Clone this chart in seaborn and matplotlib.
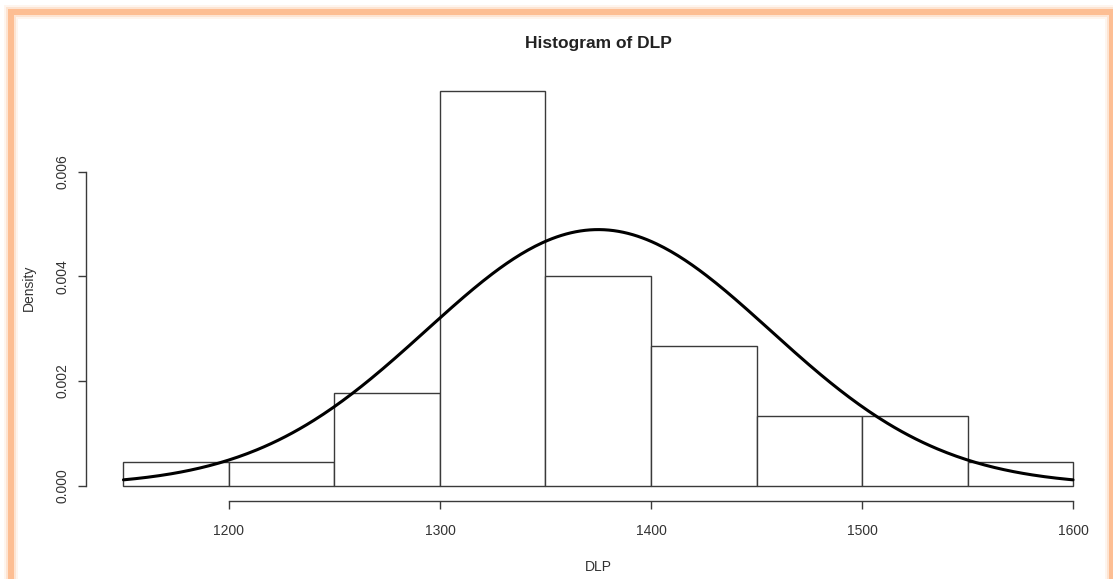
import numpy as np
import pandas as pd
import matplotlib
matplotlib.use("Agg")
import matplotlib.pyplot as plt
import seaborn as sns
from matplotlib.patches import Rectangle

# ---- data ----
bin_edges = [1150, 1200, 1250, 1300, 1350, 1400, 1450, 1500, 1550, 1600]
bin_counts = [1, 1, 4, 17, 9, 6, 3, 3, 1]
normal_mean = 1375.0
normal_sd = 81.5
x_ticks = [1200, 1300, 1400, 1500, 1600]
y_ticks = [0.000, 0.002, 0.004, 0.006]
title_text = "Histogram of DLP"
x_label = "DLP"
y_label = "Density"

sns.set_style("ticks")
plt.rcParams['font.family'] = ['Liberation Sans', 'DejaVu Sans']

W, H = 1113, 579
fig = plt.figure(figsize=(W / 100, H / 100), dpi=100)
fig.patch.set_facecolor("white")

# plot region in pixels (R-style)
left_px, right_px = 85.5, 1111.0
top_px, bottom_px = 74.7, 501.3
ax = fig.add_axes([left_px / W, 1 - bottom_px / H,
                   (right_px - left_px) / W, (bottom_px - top_px) / H])
ax.set_facecolor("none")

mids = [(a + b) / 2 for a, b in zip(bin_edges[:-1], bin_edges[1:])]
df = pd.DataFrame({"DLP": mids, "n": bin_counts})
sns.histplot(data=df, x="DLP", weights="n", bins=bin_edges, stat="density",
             color="white", edgecolor="#3a3a3a", linewidth=1.0, alpha=1.0,
             ax=ax)

xs = np.linspace(bin_edges[0], bin_edges[-1], 400)
pdf = np.exp(-0.5 * ((xs - normal_mean) / normal_sd) ** 2) / (normal_sd * np.sqrt(2 * np.pi))
sns.lineplot(x=xs, y=pdf, color="black", linewidth=2.2, ax=ax)

# R-like 4% extension
xr = bin_edges[-1] - bin_edges[0]
ax.set_xlim(bin_edges[0] - 0.04 * xr, bin_edges[-1] + 0.04 * xr)
ymax = max(c / (sum(bin_counts) * 50.0) for c in bin_counts)
ax.set_ylim(-0.04 * ymax, ymax * 1.04)

for s in ["top", "right"]:
    ax.spines[s].set_visible(False)
for s in ["left", "bottom"]:
    ax.spines[s].set_color("#3a3a3a")
    ax.spines[s].set_linewidth(1.0)
ax.spines["left"].set_bounds(y_ticks[0], y_ticks[-1])
ax.spines["bottom"].set_bounds(x_ticks[0], x_ticks[-1])

ax.set_xticks(x_ticks)
ax.set_xticklabels([str(v) for v in x_ticks])
ax.set_yticks(y_ticks)
ax.set_yticklabels([f"{v:.3f}" for v in y_ticks], rotation=90, va="center")
ax.tick_params(axis="both", length=5.5, width=1.0, color="#3a3a3a",
               labelsize=10, labelcolor="#333333")
ax.tick_params(axis="x", pad=11)
ax.tick_params(axis="y", pad=6)

ax.set_xlabel(x_label, fontsize=10, color="#333333", labelpad=16)
ax.set_ylabel(y_label, fontsize=10, color="#333333", labelpad=14)
ax.set_title(title_text, fontsize=12.5, fontweight="bold", color="#222222", pad=19)

# orange frame with soft glow
orange = "#FDBE93"
for lw, a in [(14, 0.15), (10, 0.3), (6, 1.0)]:
    fig.add_artist(Rectangle((11 / W, -0.1), (1111.5 - 11) / W, 1.1 - 12 / H,
                             transform=fig.transFigure, fill=False,
                             edgecolor=orange, linewidth=lw * 0.72, alpha=a,
                             zorder=10))

fig.savefig("out.png", dpi=100, facecolor="white")
